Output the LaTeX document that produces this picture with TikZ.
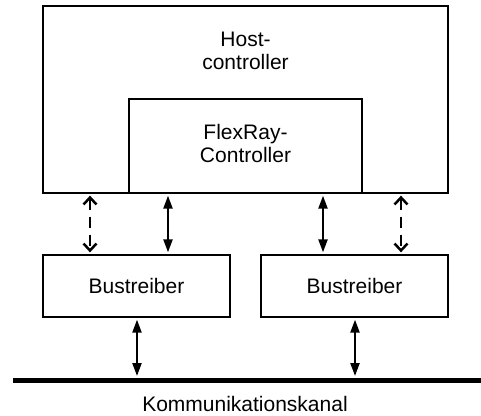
\documentclass[tikz,border=0pt]{standalone}
\usepackage{fontspec}
\setmainfont{Liberation Sans}
\usetikzlibrary{arrows.meta}
\tikzset{
  box/.style={draw, line width=2.7pt, inner sep=0pt, fill=white},
  lbl/.style={align=center, font=\fontsize{21}{23.5}\selectfont, inner sep=0pt},
  solidarrow/.style={line width=2.2pt, {Triangle[length=13pt,width=9pt]}-{Triangle[length=13pt,width=9pt]}, shorten <=1.3pt, shorten >=1.3pt},
  dasharrow/.style={line width=2.5pt, dash pattern=on 11pt off 7pt, {Straight Barb[length=7pt,width=13pt,line width=2.5pt]}-{Straight Barb[length=7pt,width=13pt,line width=2.5pt]}, shorten <=1.3pt, shorten >=1.3pt}
}
\begin{document}
\begin{tikzpicture}[x=1pt,y=-1pt]
\useasboundingbox (0,0) rectangle (481,415);
\node[box, minimum width=405pt, minimum height=187pt] (host) at (245.5,99.5) {};
\node[lbl] (hostlbl) at (245.5,51) {Host-\\controller};
\node[box, minimum width=233pt, minimum height=94pt] (flex) at (245.5,146) {};
\node[lbl] (flexlbl) at (245.5,143.5) {FlexRay-\\Controller};
\node[box, minimum width=187pt, minimum height=62pt] (bt1) at (136.5,286) {};
\node[lbl] (bt1lbl) at (136.5,286) {Bustreiber};
\node[box, minimum width=187pt, minimum height=62pt] (bt2) at (354.5,286) {};
\node[lbl] (bt2lbl) at (354.5,286) {Bustreiber};
\node[fill=black, inner sep=0pt, minimum width=468pt, minimum height=5pt] (bus) at (247,380) {};
\node[lbl, anchor=center] (buslbl) at (245,404) {Kommunikationskanal};
\coordinate (d1) at (90,0);
\coordinate (s1) at (168,0);
\coordinate (s2) at (323,0);
\coordinate (d2) at (401,0);
\coordinate (b1) at (137,0);
\coordinate (b2) at (355,0);
\draw[dasharrow] (host.south -| d1) -- (bt1.north -| d1);
\draw[solidarrow] (host.south -| s1) -- (bt1.north -| s1);
\draw[solidarrow] (host.south -| s2) -- (bt2.north -| s2);
\draw[dasharrow] (host.south -| d2) -- (bt2.north -| d2);
\draw[solidarrow] (bt1.south -| b1) -- (bus.north -| b1);
\draw[solidarrow] (bt2.south -| b2) -- (bus.north -| b2);
\end{tikzpicture}
\end{document}
